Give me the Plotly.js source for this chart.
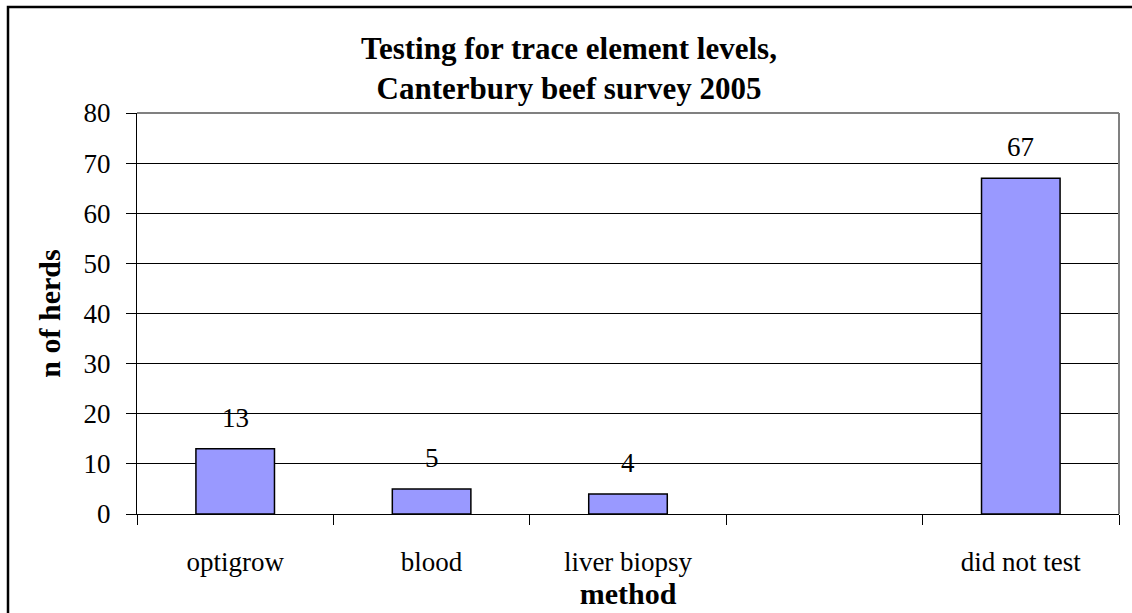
<!DOCTYPE html>
<html>
<head>
<meta charset="utf-8">
<script src="https://cdn.plot.ly/plotly-3.0.1.min.js"></script>
<style>html,body{margin:0;padding:0;background:#fff;}</style>
</head>
<body>
<div id="chart" style="width:1132px;height:613px;"></div>
<script>
const categories = ["optigrow", "blood", "liver biopsy", " ", "did not test"];
const herds = [13, 5, 4, null, 67];
const yTicks = [0, 10, 20, 30, 40, 50, 60, 70, 80];

const FONT = '"Liberation Serif", "Times New Roman", serif';

const labelAnns = categories
  .map((c, i) => ({c: c, v: herds[i]}))
  .filter(d => d.v !== null)
  .map(d => ({
    x: d.c, y: d.v, xref: 'x', yref: 'y',
    text: String(d.v), showarrow: false,
    yanchor: 'bottom', yshift: 14,
    font: {family: FONT, size: 27, color: '#000'}
  }));

const trace = {
  type: 'bar',
  x: categories,
  y: herds,
  width: 0.4,
  marker: {color: '#9999FF', line: {color: '#000', width: 1.5}},
  hoverinfo: 'x+y'
};

const layout = {
  width: 1132, height: 613,
  margin: {l: 137, r: 13, t: 113, b: 99, pad: 0},
  paper_bgcolor: '#fff', plot_bgcolor: '#fff',
  showlegend: false,
  font: {family: FONT, color: '#000', size: 27},
  title: {
    text: 'Testing for trace element levels,<br>Canterbury beef survey 2005',
    font: {family: FONT, size: 31, color: '#000', weight: 'bold'},
    x: 569 / 1132, xanchor: 'center', xref: 'container',
    y: 1 - 59 / 613, yanchor: 'top', yref: 'container'
  },
  xaxis: {
    type: 'category',
    categoryorder: 'array', categoryarray: categories,
    tickson: 'boundaries',
    ticks: 'outside', ticklen: 10, tickwidth: 1, tickcolor: '#000',
    showline: true, linecolor: '#000', linewidth: 1,
    showgrid: false, zeroline: false,
    tickfont: {family: FONT, size: 27, color: '#000'},
    ticklabelstandoff: 24,
    title: {text: 'method', font: {family: FONT, size: 30, color: '#000', weight: 'bold'}, standoff: 0},
    automargin: false
  },
  yaxis: {
    range: [0, 80],
    tickvals: yTicks,
    ticks: 'outside', ticklen: 10, tickwidth: 1, tickcolor: '#000',
    showline: true, linecolor: '#000', linewidth: 1,
    showgrid: true, gridcolor: '#000', gridwidth: 1,
    zeroline: false,
    tickfont: {family: FONT, size: 27, color: '#000'},
    ticklabelstandoff: 10,
    title: {text: 'n of herds', font: {family: FONT, size: 30, color: '#000', weight: 'bold'}, standoff: 14},
    automargin: false
  },
  annotations: labelAnns,
  shapes: [
    {type: 'line', xref: 'paper', yref: 'paper', x0: 0, x1: 1, y0: 1, y1: 1, line: {color: '#808080', width: 2}},
    {type: 'line', xref: 'paper', yref: 'paper', x0: 1, x1: 1, y0: 0, y1: 1, line: {color: '#808080', width: 2}},
    {type: 'rect', xref: 'paper', yref: 'paper',
     x0: (8 - 137) / 982, x1: (1145 - 137) / 982,
     y0: (514 - 625) / 401, y1: (514 - 7) / 401,
     line: {color: '#000', width: 2.5}, fillcolor: 'rgba(0,0,0,0)', layer: 'above'}
  ]
};

Plotly.newPlot('chart', [trace], layout, {displayModeBar: false, staticPlot: true});
</script>
</body>
</html>
